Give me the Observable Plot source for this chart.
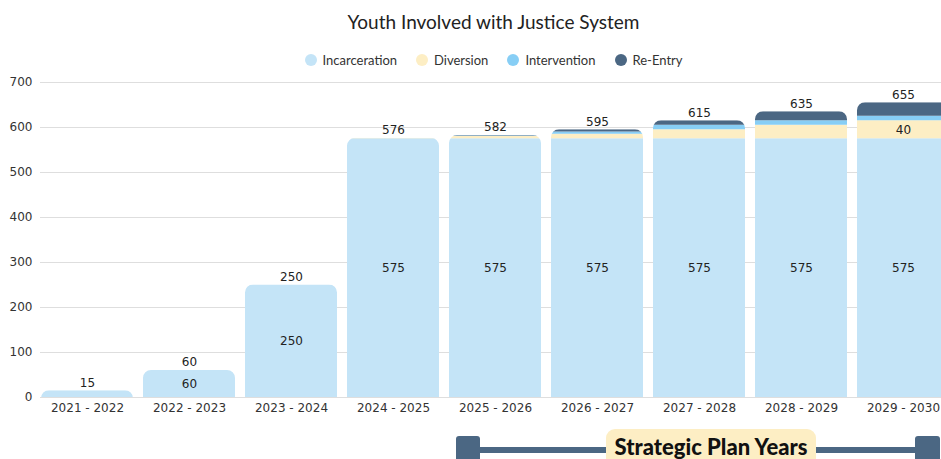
<!DOCTYPE html>
<html>
<head>
<meta charset="utf-8">
<script src="https://cdn.jsdelivr.net/npm/d3@7"></script>
<script src="https://cdn.jsdelivr.net/npm/@observablehq/plot@0.6"></script>
<style>
  html, body { margin: 0; padding: 0; background: #fff; overflow: hidden; }
  #wrap { position: relative; width: 941px; height: 459px; overflow: hidden; }
  #title { width: 987px; height: 44px; line-height: 44px; text-align: center; font-family: Lato, "Open Sans", sans-serif; font-size: 19px; color: #222; }
  #legend { width: 987px; height: 32px; display: flex; justify-content: center; align-items: center; font-family: Lato, "Open Sans", sans-serif; font-size: 13px; color: #333; }
  .item { display: flex; align-items: center; margin: 0 9.5px; }
  .sw { width: 12px; height: 12px; border-radius: 50%; margin-right: 6px; }
  #chart { width: 960px; }
  #chart svg { display: block; max-width: none !important; width: 960px; height: 383px; }
  .bar { position: absolute; background: #4b6783; }
  #pill { position: absolute; left: 606px; top: 429px; width: 210px; height: 40px; background: #fdeec4; border-radius: 9px;
          font-family: Lato, "Open Sans", sans-serif; font-weight: 900; font-size: 22px; color: #111; text-align: center; line-height: 36px; white-space: nowrap; }
</style>
</head>
<body>
<div id="wrap">
  <div id="title">Youth Involved with Justice System</div>
  <div id="legend"></div>
  <div id="chart"></div>
  <div class="bar" style="left:470px; top:447px; width:455px; height:6px;"></div>
  <div class="bar" style="left:456px; top:436px; width:24px; height:30px; border-radius:3px;"></div>
  <div class="bar" style="left:915px; top:436px; width:25px; height:30px; border-radius:3px;"></div>
  <div id="pill">Strategic Plan Years</div>
</div>
<script>
const years = ["2021 - 2022","2022 - 2023","2023 - 2024","2024 - 2025","2025 - 2026","2026 - 2027","2027 - 2028","2028 - 2029","2029 - 2030"];
const incarceration = [15, 60, 250, 575, 575, 575, 575, 575, 575];
const diversion     = [0, 0, 0, 1, 5, 10, 20, 30, 40];
const intervention  = [0, 0, 0, 0, 1, 5, 10, 10, 10];
const reentry       = [0, 0, 0, 0, 1, 5, 10, 20, 30];
const totals        = [15, 60, 250, 576, 582, 595, 615, 635, 655];
const seriesNames = ["Incarceration", "Diversion", "Intervention", "Re-Entry"];
const seriesColors = ["#c4e4f7", "#fdeec4", "#87cef5", "#4b6783"];
const yTicks = [0, 100, 200, 300, 400, 500, 600, 700];

const seriesValues = [incarceration, diversion, intervention, reentry];

// legend
const legend = document.getElementById("legend");
seriesNames.forEach((n, i) => {
  const it = document.createElement("div"); it.className = "item";
  const sw = document.createElement("div"); sw.className = "sw"; sw.style.background = seriesColors[i];
  const tx = document.createElement("span"); tx.textContent = n;
  it.appendChild(sw); it.appendChild(tx); legend.appendChild(it);
});

// stacked segments
const segments = [];
years.forEach((yr, i) => {
  let acc = 0;
  seriesNames.forEach((s, k) => {
    const v = seriesValues[k][i];
    if (v > 0) segments.push({year: yr, series: s, value: v, y1: acc, y2: acc + v, mid: acc + v / 2});
    acc += v;
  });
});
const totalData = years.map((yr, i) => ({year: yr, total: totals[i]}));

const numFont = "DejaVu Sans, Verdana, sans-serif";
const CLIP_FILL = "#010203";

const plot = Plot.plot({
  width: 960,
  height: 383,
  marginLeft: 36,
  marginRight: 6,
  marginTop: 6,
  marginBottom: 62,
  style: {fontFamily: numFont, fontSize: "12px", color: "#333", background: "transparent", overflow: "visible"},
  x: {domain: years, paddingInner: 0.1, paddingOuter: 0.05, label: null},
  y: {domain: [0, 700], label: null},
  color: {domain: seriesNames, range: seriesColors},
  marks: [
    Plot.ruleY(yTicks, {stroke: "#dedede", insetLeft: 4}),
    Plot.axisY({ticks: yTicks, tickSize: 0, tickPadding: 4, label: null, fontSize: 12, fill: "#333"}),
    Plot.axisX({tickSize: 0, tickPadding: 6, label: null, fontSize: 12, fill: "#333"}),
    Plot.barY(segments, {x: "year", y1: "y1", y2: "y2", fill: "series"}),
    Plot.barY(totalData, {x: "year", y: "total", rx: 8, insetBottom: -12, fill: CLIP_FILL}),
    Plot.text(segments.filter(d => d.value >= 40), {x: "year", y: "mid", text: d => String(d.value), fill: "#222", fontSize: 12}),
    Plot.text(totalData, {x: "year", y: "total", text: d => String(d.total), dy: -8, fill: "#222", fontSize: 12})
  ]
});
document.getElementById("chart").appendChild(plot);

// clip the stacked bars to rounded-top shapes derived from the totals mark
(function() {
  const svg = plot.tagName.toLowerCase() === "svg" ? plot : plot.querySelector("svg");
  svg.style.maxWidth = "none";
  const groups = Array.from(svg.querySelectorAll("g"));
  const norm = c => (c || "").toLowerCase();
  const clipG = groups.find(g => norm(g.getAttribute("fill")) === CLIP_FILL && g.querySelector("rect, path"));
  const colorSet = new Set(seriesColors.map(norm));
  const stackG = groups.find(g => {
    const r = g.querySelector(":scope > rect");
    return r && colorSet.has(norm(r.getAttribute("fill")));
  });
  if (!clipG || !stackG) return;
  const ns = "http://www.w3.org/2000/svg";
  const defs = document.createElementNS(ns, "defs");
  const cp = document.createElementNS(ns, "clipPath");
  cp.setAttribute("id", "barclip");
  const t = clipG.getAttribute("transform");
  clipG.querySelectorAll("rect, path").forEach(r => {
    const c = r.cloneNode();
    if (c.tagName.toLowerCase() === "rect") { c.setAttribute("rx", 8); c.setAttribute("ry", 8); }
    if (t) c.setAttribute("transform", t);
    cp.appendChild(c);
  });
  defs.appendChild(cp);
  svg.insertBefore(defs, svg.firstChild);
  const wrap = document.createElementNS(ns, "g");
  stackG.parentNode.insertBefore(wrap, stackG);
  wrap.appendChild(stackG);
  wrap.setAttribute("clip-path", "url(#barclip)");
  clipG.remove();
})();
</script>
</body>
</html>
